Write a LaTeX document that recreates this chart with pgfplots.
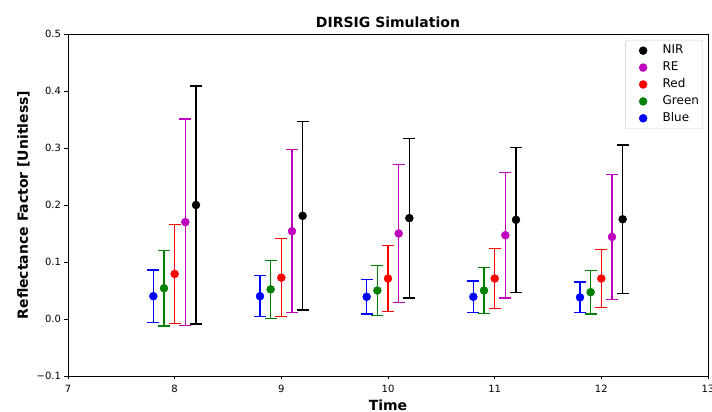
\documentclass[border=0pt]{standalone}
\usepackage{pgfplots}
\pgfplotsset{compat=1.18}
\usepackage{pgfplotstable}
\usepackage{fontspec}
\setmainfont{DejaVu Sans}
\definecolor{mplmag}{rgb}{0.75,0,0.75}
\definecolor{mplgreen}{rgb}{0,0.5,0}
\pgfplotstableread{
x y e
7.8 0.040 0.046
8.8 0.040 0.036
9.8 0.039 0.030
10.8 0.039 0.028
11.8 0.038 0.027
}\blue
\pgfplotstableread{
x y e
7.9 0.054 0.066
8.9 0.052 0.051
9.9 0.050 0.044
10.9 0.050 0.040
11.9 0.047 0.038
}\green
\pgfplotstableread{
x y e
8.0 0.079 0.087
9.0 0.0725 0.0685
10.0 0.071 0.058
11.0 0.071 0.053
12.0 0.071 0.051
}\red
\pgfplotstableread{
x y e
8.1 0.170 0.181
9.1 0.154 0.143
10.1 0.150 0.121
11.1 0.147 0.110
12.1 0.144 0.110
}\re
\pgfplotstableread{
x y e
8.2 0.200 0.209
9.2 0.181 0.165
10.2 0.177 0.140
11.2 0.174 0.127
12.2 0.175 0.130
}\nir
\pgfplotsset{
  ebar/.style={only marks, mark=*, mark size=4pt, color=#1,
    error bars/error bar style={color=#1, line width=1.6pt},
    error bars/error mark options={color=#1, rotate=90, mark size=6pt, line width=1.4pt}},
}
\begin{document}
\fontsize{10}{12}\selectfont
\begin{tikzpicture}[x=1pt,y=1pt]
\path[use as bounding box] (0,0) rectangle (712,412);
\begin{axis}[
  at={(68pt,36pt)}, anchor=south west,
  scale only axis, width=640pt, height=342pt,
  xmin=7, xmax=13, ymin=-0.1, ymax=0.5,
  xtick={7,8,9,10,11,12,13},
  ytick={-0.1,0,0.1,0.2,0.3,0.4,0.5},
  yticklabels={−0.1,0.0,0.1,0.2,0.3,0.4,0.5},
  xticklabels={7,8,9,10,11,12,13},
  tick align=outside, tick pos=left,
  major tick length=3.5pt,
  tick style={black, line width=0.8pt},
  axis line style={black, line width=0.8pt},
  tick label style={font=\fontsize{10}{12}\selectfont},
  xticklabel style={yshift=-2pt},
  title={\bfseries DIRSIG Simulation},
  title style={font=\fontsize{14}{16}\selectfont, yshift=-3pt},
  xlabel={\bfseries Time},
  ylabel={\bfseries Reflectance Factor [Unitless]},
  label style={font=\fontsize{14}{16}\selectfont},
  xlabel style={yshift=0pt},
  ylabel style={yshift=0pt},
  legend style={at={(0.9917,0.9825)}, anchor=north east, draw=black!20, rounded corners=2pt,
    font=\fontsize{12}{14}\selectfont, row sep=4.9pt, inner xsep=2.5pt, inner ysep=4.5pt,
    nodes={inner xsep=1pt, inner ysep=0pt, text height=9pt, text depth=3pt}},
  legend image code/.code={\path[draw=none, fill=none] (0pt,0pt) -- (33.5pt,0pt); \draw[#1, mark size=4pt] plot coordinates {(15pt,0pt)};},
  legend cell align=left,
  reverse legend,
  error bars/y dir=both, error bars/y explicit,
]
\addplot[ebar=blue] table[x=x, y=y, y error=e] {\blue};
\addlegendentry{Blue}
\addplot[ebar=mplgreen] table[x=x, y=y, y error=e] {\green};
\addlegendentry{Green}
\addplot[ebar=red] table[x=x, y=y, y error=e] {\red};
\addlegendentry{Red}
\addplot[ebar=mplmag] table[x=x, y=y, y error=e] {\re};
\addlegendentry{RE}
\addplot[ebar=black] table[x=x, y=y, y error=e] {\nir};
\addlegendentry{NIR}
\end{axis}
\end{tikzpicture}
\end{document}
